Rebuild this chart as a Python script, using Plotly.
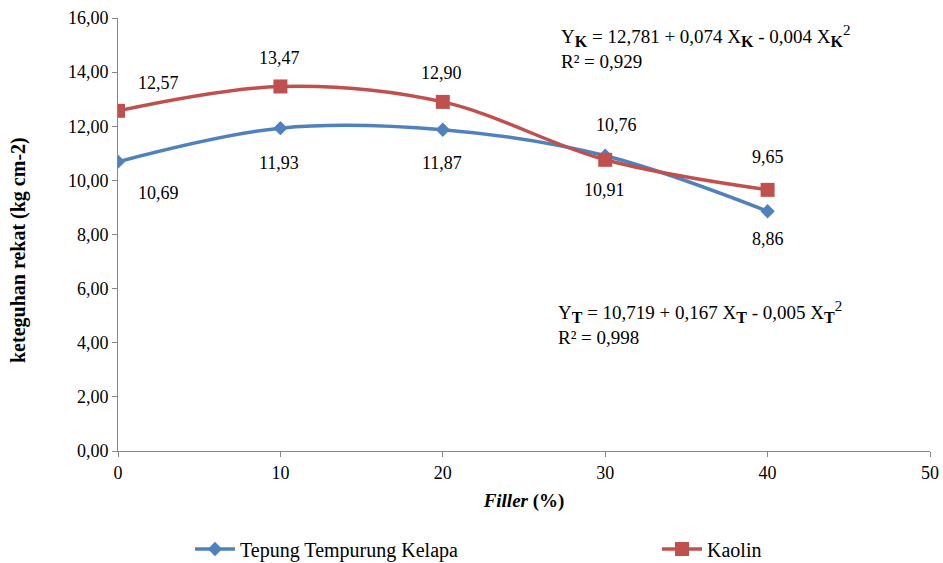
import plotly.graph_objects as go

filler = [0, 10, 20, 30, 40]
tepung = [10.69, 11.93, 11.87, 10.91, 8.86]
kaolin = [12.57, 13.47, 12.90, 10.76, 9.65]
y_ticks = [0, 2, 4, 6, 8, 10, 12, 14, 16]
x_ticks = [0, 10, 20, 30, 40, 50]

BLUE = "#4F81BD"
RED = "#C0504D"
FONT = "Liberation Serif, DejaVu Serif, serif"

def fmt(v):
    return f"{v:.2f}".replace(".", ",")

fig = go.Figure()
fig.add_trace(go.Scatter(
    x=filler, y=tepung, name="Tepung Tempurung Kelapa", mode="lines+markers",
    line=dict(color=BLUE, width=3.5, shape="spline", smoothing=1),
    marker=dict(symbol="diamond", size=11, color=BLUE), legend="legend"))
fig.add_trace(go.Scatter(
    x=filler, y=kaolin, name="Kaolin", mode="lines+markers",
    line=dict(color=RED, width=3.5, shape="spline", smoothing=1),
    marker=dict(symbol="square", size=14, color=RED), legend="legend2"))

red_off = [(40, 28), (-1, 28), (-1, 29), (11, 35), (0, 33)]
blue_off = [(40, -31), (-1, -35), (-1, -33), (-1, -34), (0, -28)]
for xv, yv, (dx, dy) in zip(filler, kaolin, red_off):
    fig.add_annotation(x=xv, y=yv, text=fmt(yv), showarrow=False, xshift=dx, yshift=dy,
                       font=dict(family=FONT, size=18, color="black"))
for xv, yv, (dx, dy) in zip(filler, tepung, blue_off):
    fig.add_annotation(x=xv, y=yv, text=fmt(yv), showarrow=False, xshift=dx, yshift=dy,
                       font=dict(family=FONT, size=18, color="black"))

def sub(s):
    return f"<sub><span style='font-size:16px'><b>{s}</b></span></sub>"

eq_k = (f"Y{sub('K')} = 12,781 + 0,074 X{sub('K')} - 0,004 X{sub('K')}"
        "<sup><span style='font-size:15px'>2</span></sup><br>R² = 0,929")
eq_t = (f"Y{sub('T')} = 10,719 + 0,167 X{sub('T')} - 0,005 X{sub('T')}"
        "<sup><span style='font-size:15px'>2</span></sup><br>R² = 0,998")
fig.add_annotation(xref="paper", yref="paper", x=(559 - 118) / 812, y=1 - (20 - 18) / 433,
                   xanchor="left", yanchor="top", align="left", text=eq_k, showarrow=False,
                   font=dict(family=FONT, size=19, color="black"))
fig.add_annotation(xref="paper", yref="paper", x=(556 - 118) / 812, y=1 - (296 - 18) / 433,
                   xanchor="left", yanchor="top", align="left", text=eq_t, showarrow=False,
                   font=dict(family=FONT, size=19, color="black"))

# y-axis title placed as rotated annotation
fig.add_annotation(xref="paper", yref="paper", x=(18 - 118) / 812, y=(451 - 250) / 433,
                   xanchor="center", yanchor="middle", textangle=-90, showarrow=False,
                   text="<b>keteguhan rekat (kg cm-2)</b>",
                   font=dict(family=FONT, size=20, color="black"))

leg_common = dict(orientation="h", yanchor="middle", xanchor="left", xref="container", yref="container",
                  font=dict(family=FONT, size=20, color="black"), itemwidth=40, bgcolor="rgba(0,0,0,0)")
fig.update_layout(
    width=943, height=563,
    margin=dict(l=118, r=13, t=18, b=112, autoexpand=False),
    paper_bgcolor="white", plot_bgcolor="white",
    font=dict(family=FONT, size=18, color="black"),
    showlegend=True,
    legend=dict(x=190 / 943, y=1 - 549 / 563, **leg_common),
    legend2=dict(x=657 / 943, y=1 - 549 / 563, **leg_common),
    xaxis=dict(range=[0, 50], tickvals=x_ticks, ticktext=[str(t) for t in x_ticks],
               showgrid=False, zeroline=False, showline=True, linecolor="#868686", linewidth=1,
               ticks="outside", ticklen=5, tickcolor="#868686", automargin=False,
               title=dict(text="<b><i>Filler</i> (%)</b>", standoff=12, font=dict(family=FONT, size=19))),
    yaxis=dict(range=[0, 16], tickvals=y_ticks, ticktext=[fmt(t) for t in y_ticks],
               showgrid=False, zeroline=False, showline=True, linecolor="#868686", linewidth=1,
               ticks="outside", ticklen=5, tickcolor="#868686", automargin=False),
)

fig.write_html("out.html", config={"displayModeBar": False},
               post_script="document.body.style.margin='0';document.body.style.padding='0';")
